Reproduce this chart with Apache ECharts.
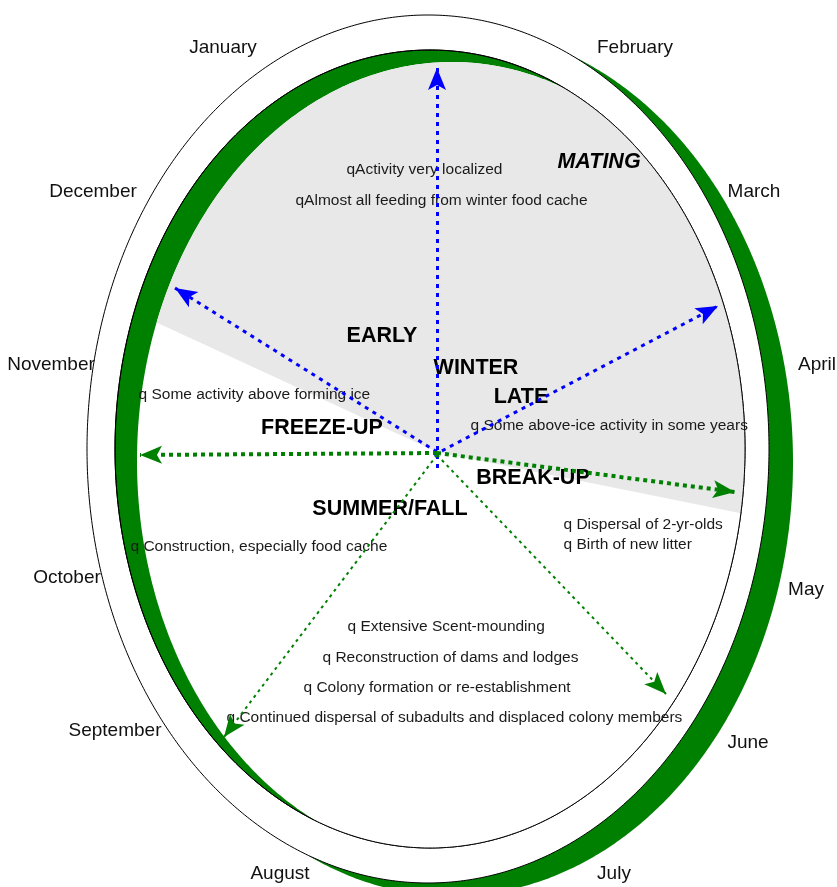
<!DOCTYPE html>
<html>
<head>
<meta charset="utf-8">
<script src="https://cdn.jsdelivr.net/npm/echarts@6/dist/echarts.min.js"></script>
<style>
html,body{margin:0;padding:0;background:#ffffff;}
#chart{width:837px;height:887px;}
</style>
</head>
<body>
<div id="chart"></div>
<script>
// ---------- values (canvas pixel units) ----------
const monthNames = ['January','February','December','March','November','April','October','May','September','June','August','July'];
const monthX = [223,635,93,754,51,817,67,806,115,748,280,614];
const monthY = [48,48,192,192,365,365,578,590,731,743,874,874];

const phaseNames = ['EARLY','WINTER','LATE','FREEZE-UP','BREAK-UP','SUMMER/FALL','MATING'];
const phaseX = [382,476,521,322,533,390,599];
const phaseY = [336,368,397,428,478,509,162];

const noteTexts = [
  'qActivity very localized',
  'qAlmost all feeding from winter food cache',
  'q Some activity above forming ice',
  'q Some above-ice activity in some years',
  'q Dispersal of 2-yr-olds',
  'q Birth of new litter',
  'q Construction, especially food cache',
  'q Extensive Scent-mounding',
  'q Reconstruction of dams and lodges',
  'q Colony formation or re-establishment',
  'q Continued dispersal of subadults and displaced colony members'
];
const noteX = [346,295,138,470,563,563,130,347,322,303,226];
const noteY = [170,201,395,426,525,545,547,627,658,688,718];

const hub = [437,452];
const blueTails = [[437,468],[437,452],[434,455]];
const blueTips = [[437,68],[175,288],[718,306]];
const greenTails = [[437,453],[437,453]];
const greenTips = [[140,455],[735,492]];
const thinTails = [[437,455],[437,455]];
const thinTips = [[224,737],[666,694]];

// ellipses: [cx, cy, rx, ry]
const outerEllipse = [428,449,341,434];
const outerShadow = [452,462,341,434];
const ringEllipse = [430,449,315,399];
const innerEllipse = [452,461,315,399];
// winter sector: start / end angle (deg, counter-clockwise from east)
const winterAngles = [-11.4,155.2];

// ---------- drawing ----------
const FONT = "'Liberation Sans', Arial, Helvetica, sans-serif";
const GREEN = '#008000', BLUE = '#0000ff', GRAY = '#e8e8e8';

function toPx(api, e){
  const c = api.coord([e[0], e[1]]);
  const r = api.size([e[2], e[3]], [e[0], e[1]]);
  return {cx:c[0], cy:c[1], rx:r[0], ry:r[1]};
}
function ellipsePts(E, n){
  const pts = [];
  for (let k = 0; k < n; k++){
    const t = 2*Math.PI*k/n;
    pts.push([E.cx + E.rx*Math.cos(t), E.cy + E.ry*Math.sin(t)]);
  }
  return pts;
}
function rayHit(o, d, E){
  const px = (o[0]-E.cx)/E.rx, py = (o[1]-E.cy)/E.ry, dx = d[0]/E.rx, dy = d[1]/E.ry;
  const A = dx*dx+dy*dy, B = 2*(px*dx+py*dy), C = px*px+py*py-1;
  return (-B + Math.sqrt(B*B-4*A*C))/(2*A);
}
function regionPts(o, Es, a0, a1, withApex){
  const pts = [];
  if (withApex) pts.push([o[0], o[1]]);
  const steps = Math.ceil(Math.abs(a1-a0)/0.5);
  for (let k = 0; k <= steps; k++){
    const a = (a0 + (a1-a0)*k/steps)*Math.PI/180;
    const d = [Math.cos(a), -Math.sin(a)];
    let s = Infinity;
    Es.forEach(E => { s = Math.min(s, rayHit(o, d, E)); });
    pts.push([o[0]+s*d[0], o[1]+s*d[1]]);
  }
  return pts;
}
function ellipseSeries(e, style, z){
  return {
    type:'custom', coordinateSystem:'cartesian2d', z:z, silent:true, clip:false,
    data:[e],
    renderItem:function(p, api){
      const E = toPx(api, [api.value(0), api.value(1), api.value(2), api.value(3)]);
      return {type:'polygon', shape:{points:ellipsePts(E, 720)}, style:style};
    }
  };
}
function regionSeries(a0, a1, apex, style, z){
  return {
    type:'custom', coordinateSystem:'cartesian2d', z:z, silent:true, clip:false,
    data:[hub],
    renderItem:function(p, api){
      const o = api.coord([api.value(0), api.value(1)]);
      const Es = [toPx(api, innerEllipse), toPx(api, ringEllipse)];
      return {type:'polygon', shape:{points:regionPts(o, Es, a0, a1, apex)}, style:style};
    }
  };
}
const ARROW = 'path://M0,0L0,0M48,48L48,48M24,24L33,46L24,41L15,46Z';
function arrowSeries(tails, tips, color, width, dash, z){
  return {
    type:'lines', coordinateSystem:'cartesian2d', z:z, silent:true,
    symbol:['none', ARROW], symbolSize:[1,48],
    lineStyle:{color:color, width:width, type:dash, opacity:1, cap:'butt', curveness:0},
    data: tips.map((t,i) => ({coords:[tails[i], t]}))
  };
}
function textSeries(names, xs, ys, label, z, itemLabel){
  return {
    type:'scatter', z:z, silent:true, symbol:'circle', symbolSize:1,
    itemStyle:{color:'rgba(0,0,0,0)', opacity:1},
    label:Object.assign({show:true, formatter:'{b}', fontFamily:FONT, opacity:1}, label),
    emphasis:{disabled:true},
    data: names.map((n,i) => {
      const item = {name:n, value:[xs[i], ys[i]]};
      if (itemLabel && itemLabel(n)) item.label = itemLabel(n);
      return item;
    })
  };
}

const chart = echarts.init(document.getElementById('chart'), null, {renderer:'canvas'});
chart.setOption({
  animation:false,
  backgroundColor:'#ffffff',
  grid:{left:0, right:0, top:0, bottom:0, containLabel:false},
  xAxis:{type:'value', min:0, max:837, show:false},
  yAxis:{type:'value', min:0, max:887, inverse:true, show:false},
  series:[
    ellipseSeries(outerShadow, {fill:GREEN}, 1),
    ellipseSeries(outerEllipse, {fill:'#ffffff', stroke:'#000000', lineWidth:1}, 2),
    ellipseSeries(ringEllipse, {fill:GREEN, stroke:'#000000', lineWidth:1}, 3),
    regionSeries(0, 360, false, {fill:'#ffffff'}, 4),
    regionSeries(winterAngles[0], winterAngles[1], true, {fill:GRAY}, 5),
    ellipseSeries(ringEllipse, {fill:'none', stroke:'#000000', lineWidth:1}, 6),
    textSeries(monthNames, monthX, monthY, {position:'inside', fontSize:19, color:'#111111'}, 7),
    textSeries(phaseNames, phaseX, phaseY, {position:'inside', fontSize:21.5, fontWeight:'bold', color:'#000000'}, 7,
      n => n === 'MATING' ? {fontStyle:'italic'} : null),
    textSeries(noteTexts, noteX, noteY, {position:'right', distance:0, fontSize:15.5, color:'#1a1a1a'}, 7),
    arrowSeries(blueTails, blueTips, BLUE, 3, [4,5], 8),
    arrowSeries(greenTails, greenTips, GREEN, 4, [4,4], 8),
    arrowSeries(thinTails, thinTips, GREEN, 2, [3,4], 8)
  ]
});
</script>
</body>
</html>
